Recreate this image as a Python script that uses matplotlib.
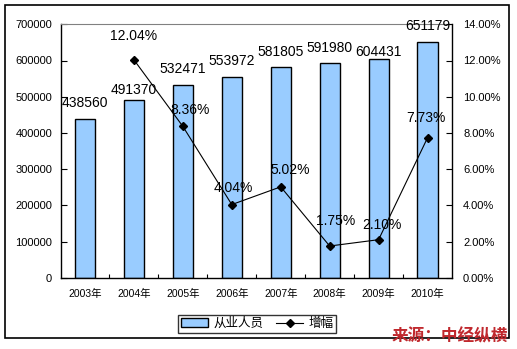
import matplotlib
matplotlib.use("Agg")
import matplotlib.pyplot as plt
import matplotlib.patches as mpatches
from matplotlib.lines import Line2D
import numpy as np

plt.rcParams['font.family'] = ['Liberation Sans', 'Noto Sans CJK SC', 'DejaVu Sans']

# data
years = ['2003年', '2004年', '2005年', '2006年', '2007年', '2008年', '2009年', '2010年']
employees = [438560, 491370, 532471, 553972, 581805, 591980, 604431, 651179]
growth = [12.04, 8.36, 4.04, 5.02, 1.75, 2.10, 7.73]  # %, from 2004

# label offsets in pixels (layout only)
bar_lbl_gap = [9, 3, 9, 9, 8, 8, 0, 9]
line_lbl_off = [(0, 17), (7, 9), (2, 10), (9, 10), (6, 18), (3, 8), (-2, 13)]

W, H = 517, 349
fig = plt.figure(figsize=(W / 100, H / 100), dpi=100)

# outer frame
fig.patches.append(mpatches.Rectangle((5 / W, (H - 337.5) / H), 504 / W, 332.5 / H,
                                      transform=fig.transFigure, fill=False,
                                      edgecolor='black', lw=1.2, zorder=0))

ax = fig.add_axes([60.5 / W, (H - 277.7) / H, (452 - 60.5) / W, (277.7 - 24.3) / H])
x = np.arange(len(years))
bars = ax.bar(x, employees, width=0.41, color='#99CCFF', edgecolor='black', lw=1, zorder=2)
ax.set_xlim(-0.5, len(years) - 0.5)
ax.set_ylim(0, 700000)
ax.set_yticks(range(0, 700001, 100000))
ax.set_yticklabels([str(v) for v in range(0, 700001, 100000)], fontsize=8)
ax.set_xticks(x)
ax.set_xticklabels(years, fontsize=7.5)
ax.set_xticks(np.arange(0.5, len(years) - 0.5, 1), minor=True)
ax.tick_params(axis='x', which='major', length=0, pad=8)
ax.tick_params(axis='x', which='minor', direction='in', length=3, width=0.8)
ax.tick_params(axis='y', direction='in', length=4, width=0.8, pad=6)
ax.spines['top'].set_color('#808080')
ax.spines['right'].set_visible(False)
for s in ['left', 'bottom']:
    ax.spines[s].set_linewidth(1)

for xi, v, g in zip(x, employees, bar_lbl_gap):
    ax.annotate(str(v), (xi, v), xytext=(0, g), textcoords='offset pixels',
                ha='center', va='bottom', fontsize=10)

ax2 = ax.twinx()
ax2.set_ylim(0, 14)
ax2.set_yticks(np.arange(0, 14.01, 2))
ax2.set_yticklabels(['%.2f%%' % t for t in np.arange(0, 14.01, 2)], fontsize=8)
ax2.tick_params(axis='y', direction='in', length=4, width=0.8, pad=8)
for s in ['top', 'left', 'bottom']:
    ax2.spines[s].set_visible(False)
ax2.spines['right'].set_linewidth(1)
ax2.plot(x[1:], growth, color='black', lw=0.8, marker='D', markersize=4, zorder=3)
for xi, g, off in zip(x[1:], growth, line_lbl_off):
    ax2.annotate('%.2f%%' % g, (xi, g), xytext=off, textcoords='offset pixels',
                 ha='center', va='bottom', fontsize=10)

handles = [mpatches.Patch(facecolor='#99CCFF', edgecolor='black', lw=1),
           Line2D([], [], color='black', lw=0.8, marker='D', markersize=4)]
leg = fig.legend(handles, ['从业人员', '增幅'], ncol=2, loc='center',
                 bbox_to_anchor=(257 / W, (H - 324) / H), fontsize=9,
                 frameon=True, fancybox=False, borderpad=0.25, handlelength=2.2,
                 columnspacing=1.0, handletextpad=0.4)
leg.get_frame().set_edgecolor('black')
leg.get_frame().set_linewidth(1)

fig.text(508 / W, (H - 336) / H, '来源：中经纵横', ha='right', va='center',
         fontsize=12, fontweight='bold', color='#C0282D', style='italic', zorder=5)

fig.savefig('out.png', dpi=100)
